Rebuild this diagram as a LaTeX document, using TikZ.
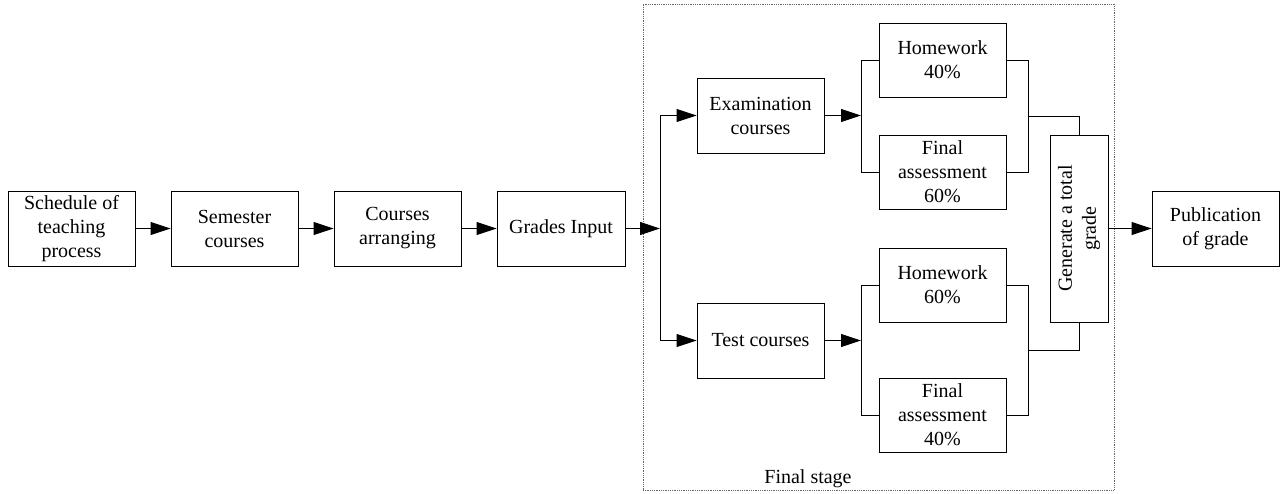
\documentclass[tikz,border=0pt]{standalone}
\usepackage{fontspec}
\setmainfont{Liberation Serif}
\usetikzlibrary{arrows.meta,positioning,calc}
\begin{document}
\begin{tikzpicture}[x=1pt,y=-1pt,
  box/.style={draw,line width=0.9pt,minimum width=127pt,minimum height=75pt,inner sep=0pt,align=center,font=\fontsize{20}{24}\selectfont},
  conn/.style={line width=0.9pt},
  arr/.style={line width=0.9pt,-{Triangle[length=20pt,width=13pt]}}]
\useasboundingbox (0,0) rectangle (1282,493);
% final stage frame
\node[draw=black!60,densely dotted,line width=0.8pt,minimum width=471pt,minimum height=486pt,inner sep=0pt] (stage) at (878.5,247) {};
\node[font=\fontsize{20}{24}\selectfont,anchor=base] (stagelbl) at (808,483) {Final stage};
% main chain
\node[box] (sched) at (71.5,228.5) {Schedule of\\teaching\\process};
\node[box] (sem) at (234.5,228.5) {Semester\\courses};
\node[box] (arr1) at (397.5,228.5) {Courses\\arranging};
\node[box,minimum width=128pt] (grades) at (561,228.5) {Grades Input};
\node[box] (exam) at (760.5,115.5) {Examination\\courses};
\node[box] (test) at (760.5,340.5) {Test courses};
\node[box,minimum height=74pt] (hw40) at (942.5,60) {Homework\\40\%};
\node[box,minimum height=74pt] (fa60) at (942.5,172) {Final\\assessment\\60\%};
\node[box,minimum height=74pt] (hw60) at (942.5,285) {Homework\\60\%};
\node[box,minimum height=74pt] (fa40) at (942.5,415) {Final\\assessment\\40\%};
\node[box,rotate=90,minimum width=187pt,minimum height=58pt] (gen) at (1079,228.5) {Generate a total\\grade};
\node[box] (pub) at (1215.5,228.5) {Publication\\of grade};
% coordinates
\coordinate (split) at (660,228.5);
\coordinate (examin) at (861,115.5);
\coordinate (testin) at (861,340.5);
\coordinate (upjoin) at (1028,116);
\coordinate (lowjoin) at (1028,350);
% connectors
\draw[arr] (sched) -- (sem);
\draw[arr] (sem) -- (arr1);
\draw[arr] (arr1) -- (grades);
\draw[arr] (grades) -- (split);
\draw[conn] (split |- exam.west) -- (split |- test.west);
\draw[arr] (split |- exam.west) -- (exam.west);
\draw[arr] (split |- test.west) -- (test.west);
\draw[arr] (exam.east) -- (examin);
\draw[arr] (test.east) -- (testin);
\draw[conn] (hw40.west) -| (examin) |- (fa60.west);
\draw[conn] (hw60.west) -| (testin) |- (fa40.west);
\draw[conn] (hw40.east) -| (upjoin) |- (fa60.east);
\draw[conn] (hw60.east) -| (lowjoin) |- (fa40.east);
\draw[conn] (upjoin) -| (gen.east);
\draw[conn] (lowjoin) -| (gen.west);
\draw[arr] (gen.south) -- (pub.west);
\end{tikzpicture}
\end{document}
